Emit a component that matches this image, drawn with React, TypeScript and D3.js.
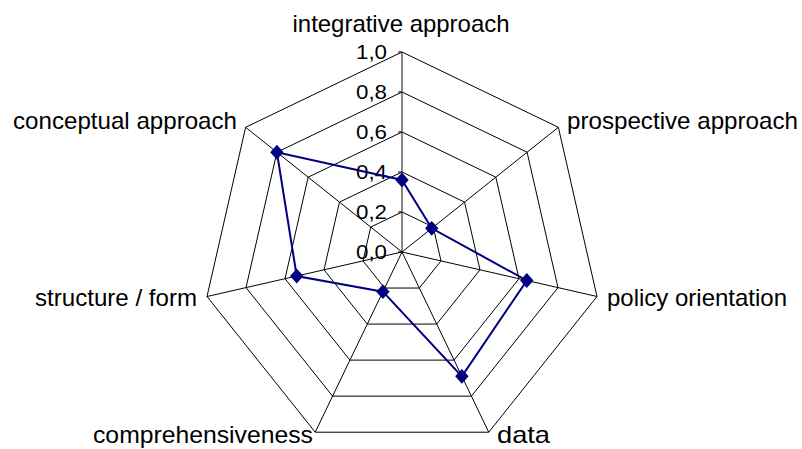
import React from "react";
import * as d3 from "d3";

const categories = [
  "integrative approach",
  "prospective approach",
  "policy orientation",
  "data",
  "comprehensiveness",
  "structure / form",
  "conceptual approach",
];
const values = [0.36, 0.19, 0.64, 0.69, 0.22, 0.54, 0.8];
const ticks = [0, 0.2, 0.4, 0.6, 0.8, 1.0];
const tickLabels = ["0,0", "0,2", "0,4", "0,6", "0,8", "1,0"];

const W = 802;
const H = 449;
const cx = 402;
const cy = 252;
const R = 200;
const FONT = "'Liberation Sans', Arial, sans-serif";

// label placement: [x, y, anchor, width]
const labelPos: [number, number, string, number][] = [
  [401, 32, "middle", 217],
  [567, 129, "start", 231],
  [607, 306, "start", 180],
  [497, 443, "start", 53],
  [313, 443, "end", 220],
  [197, 306, "end", 162],
  [237, 129, "end", 224],
];

export default function App() {
  const n = categories.length;
  const angle = d3
    .scaleLinear()
    .domain([0, n])
    .range([0, 2 * Math.PI]);
  const r = d3.scaleLinear().domain([0, 1]).range([0, R]);
  const pt = (i: number, v: number): [number, number] => {
    const a = angle(i);
    return [cx + r(v) * Math.sin(a), cy - r(v) * Math.cos(a)];
  };
  const line = d3.line<[number, number]>().curve(d3.curveLinearClosed);
  const series = values.map((v, i) => pt(i, v));

  return (
    <svg width={W} height={H} style={{ position: "absolute", left: 0, top: 0 }}>
      <rect width={W} height={H} fill="#fff" />
      {ticks.slice(1).map((t) => (
        <path
          key={t}
          d={line(categories.map((_, i) => pt(i, t))) || ""}
          fill="none"
          stroke="#000"
          strokeWidth={1}
        />
      ))}
      {categories.map((_, i) => {
        const [x, y] = pt(i, 1);
        return (
          <line
            key={i}
            x1={cx}
            y1={cy}
            x2={x}
            y2={y}
            stroke={i === 0 ? "#444" : "#000"}
            strokeWidth={i === 0 ? 1.3 : 1}
          />
        );
      })}
      {ticks.map((t, k) => {
        const y = cy - r(t);
        return (
          <line key={"tm" + k} x1={cx - 4} x2={cx} y1={y} y2={y} stroke="#000" strokeWidth={1} />
        );
      })}
      {ticks.map((t, k) => (
        <text
          key={"t" + k}
          x={387}
          y={cy - r(t) + 7}
          textAnchor="end"
          fontFamily={FONT}
          fontSize={21}
          textLength={31}
          lengthAdjust="spacingAndGlyphs"
          fill="#000"
        >
          {tickLabels[k]}
        </text>
      ))}
      <path
        d={line(series) || ""}
        fill="none"
        stroke="#000080"
        strokeWidth={2}
      />
      {series.map(([x, y], i) => (
        <path
          key={"m" + i}
          d={d3.symbol(d3.symbolSquare, 100)() || ""}
          transform={`translate(${x},${y}) scale(0.95,1.05) rotate(45)`}
          fill="#000080"
        />
      ))}
      {categories.map((c, i) => {
        const [x, y, anchor, w] = labelPos[i];
        return (
          <text
            key={"l" + i}
            x={x}
            y={y}
            textAnchor={anchor as any}
            fontFamily={FONT}
            fontSize={24}
            textLength={w}
            lengthAdjust="spacingAndGlyphs"
            fill="#000"
          >
            {c}
          </text>
        );
      })}
    </svg>
  );
}
